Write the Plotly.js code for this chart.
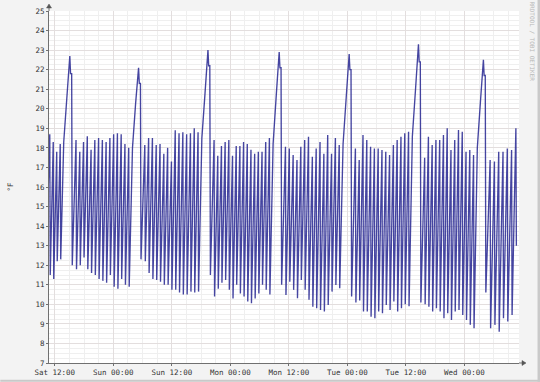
<!DOCTYPE html>
<html><head><meta charset="utf-8">
<script src="https://cdn.plot.ly/plotly-3.0.1.min.js"></script>
<style>html,body{margin:0;padding:0;background:#f3f3f3;}#chart{width:540px;height:382px;}</style>
</head><body><div id="chart"></div>
<script>
// ---- data (hours relative to Sat 12:00, values in °F) ----
const baseTimeMs = Date.UTC(2010, 0, 2, 12, 0, 0); // Saturday 12:00
const axisStartHour = -1.19;
const axisEndHour = 95.2;
const dataStartHour = -1.75;
const dataEndHour = 95.44;
const startValue = 12.5;

// defrost peaks
const peakHours      = [3.08, 17.18, 31.41, 46.02, 60.37, 74.58, 87.9];
const riseStart      = [18.3, 18.0, 18.5, 18.2, 18.2, 18.6, 18.0];
const riseMid        = [20.6, 20.3, 20.8, 20.7, 20.6, 21.0, 20.4];
const peakValues     = [22.7, 22.1, 23.0, 22.9, 22.8, 23.3, 22.5];
const shoulderValues = [21.8, 21.3, 22.2, 22.1, 22.0, 22.4, 21.7];
const dropValues     = [12.0, 12.3, 11.5, 11.0, 10.4, 10.1, 10.6];

// compressor cycles between defrosts: maxima and minima
const seg0Max = [18.7, 18.3, 17.8, 18.2];
const seg0Min = [11.5, 11.3, 12.2, 12.3];
const seg1Max = [18.4, 17.8, 18.3, 18.6, 17.9, 18.4, 18.5, 18.4, 18.3, 18.5, 18.7, 18.75, 18.7, 18.2, 18.0];
const seg1Min = [11.8, 12.0, 12.4, 11.8, 11.6, 11.5, 11.3, 11.2, 11.1, 11.5, 10.9, 10.8, 11.3, 11.0, 10.9];
const seg2Max = [18.15, 18.5, 18.5, 18.15, 18.2, 17.7, 18.0, 17.3, 18.9, 18.75, 18.8, 18.7, 18.75, 19.0, 18.8];
const seg2Min = [12.2, 11.6, 11.3, 11.25, 11.15, 11.0, 11.0, 10.75, 10.75, 10.6, 10.5, 10.5, 10.65, 10.6, 10.65];
const seg3Max = [18.4, 17.6, 18.1, 18.3, 18.4, 17.6, 18.1, 18.1, 18.3, 18.2, 17.9, 17.7, 17.8, 17.8, 18.3, 18.5];
const seg3Min = [10.4, 10.8, 11.1, 11.25, 10.75, 10.3, 11.0, 10.55, 10.4, 10.15, 10.05, 10.3, 10.55, 11.0, 10.75, 10.5];
const seg4Max = [18.06, 17.97, 17.64, 17.38, 18.06, 18.4, 18.57, 17.55, 17.97, 18.3, 17.7, 18.66, 17.7, 18.5, 18.15];
const seg4Min = [10.48, 11.16, 10.74, 10.31, 11.25, 10.74, 10.23, 9.88, 9.8, 9.71, 9.63, 9.97, 10.65, 10.99, 10.82];
const seg5Max = [17.97, 17.38, 18.66, 18.4, 18.06, 17.97, 17.97, 17.89, 17.8, 17.64, 18.15, 18.4, 18.57, 18.75, 18.83];
const seg5Min = [10.1, 10.2, 9.63, 9.63, 9.37, 9.29, 9.63, 9.54, 9.97, 9.71, 10.14, 9.63, 9.8, 10.0, 9.9];
const seg6Max = [17.5, 18.57, 18.15, 18.4, 18.4, 18.66, 19.0, 17.89, 18.4, 18.92, 18.83, 17.8, 17.89, 17.64];
const seg6Min = [10.0, 9.88, 9.63, 9.8, 9.63, 9.29, 9.54, 9.2, 9.63, 9.71, 9.46, 9.2, 8.95, 8.78];
const seg7Max = [17.38, 17.3, 17.8, 17.8, 17.97, 17.89, 19.0];
const seg7Min = [8.78, 8.95, 8.6, 9.29, 9.12, 9.46, 13.0];

const yTickStep = 1;
const yRange = [7, 25];

// ---- build series ----
const HOUR = 3600000;
function toDateStr(h) {
  return new Date(baseTimeMs + h * HOUR).toISOString().replace('T', ' ').replace('Z', '');
}
const segMax = [seg0Max, seg1Max, seg2Max, seg3Max, seg4Max, seg5Max, seg6Max, seg7Max];
const segMin = [seg0Min, seg1Min, seg2Min, seg3Min, seg4Min, seg5Min, seg6Min, seg7Min];
const xs = [], ys = [];
function push(h, v) { xs.push(toDateStr(h)); ys.push(v); }

for (let k = 0; k < segMax.length; k++) {
  const start = k === 0 ? dataStartHour : peakHours[k - 1] + 0.5;
  const end = k === segMax.length - 1 ? dataEndHour : peakHours[k] - 1.25;
  if (k === 0) push(start, startValue);
  const n = segMax[k].length;
  const step = (end - start) / (n + 1);
  for (let i = 0; i < n; i++) {
    const t = start + (i + 1) * step;
    push(t, segMax[k][i]);
    push(t + 0.1, segMin[k][i]);
  }
  if (k < peakHours.length) {
    const P = peakHours[k];
    push(P - 1.25, riseStart[k]);
    push(P - 0.6, riseMid[k]);
    push(P, peakValues[k]);
    push(P + 0.15, shoulderValues[k]);
    push(P + 0.38, shoulderValues[k]);
    push(P + 0.5, dropValues[k]);
  }
}

const trace = {
  x: xs, y: ys, type: 'scatter', mode: 'lines',
  line: { color: 'rgba(36,36,145,0.85)', width: 1.35 },
  hoverinfo: 'skip', showlegend: false
};

const monoFont = { family: 'DejaVu Sans Mono, monospace', size: 7.5, color: '#333333' };
const majorGrid = '#e3dede';
const minorGrid = '#efefef';
const axisColor = '#707070';

const layout = {
  width: 540, height: 382,
  margin: { l: 48.7, r: 21, t: 11, b: 18.7, pad: 0 },
  paper_bgcolor: '#f3f3f3',
  plot_bgcolor: '#ffffff',
  showlegend: false,
  xaxis: {
    type: 'date',
    range: [toDateStr(axisStartHour), toDateStr(axisEndHour)],
    tick0: toDateStr(0), dtick: 12 * HOUR,
    tickformat: '%a %H:%M',
    showgrid: true, gridcolor: majorGrid, gridwidth: 1,
    minor: { tick0: toDateStr(0), dtick: 3 * HOUR, showgrid: true, gridcolor: minorGrid, gridwidth: 1 },
    showline: true, linecolor: axisColor, linewidth: 1,
    ticks: 'outside', ticklen: 2, tickcolor: axisColor,
    zeroline: false, tickfont: monoFont, fixedrange: true
  },
  yaxis: {
    range: yRange, dtick: yTickStep, tick0: 0,
    showgrid: true, gridcolor: majorGrid, gridwidth: 1,
    minor: { dtick: 0.25, showgrid: true, gridcolor: minorGrid, gridwidth: 1 },
    showline: true, linecolor: axisColor, linewidth: 1,
    ticks: 'outside', ticklen: 2, tickcolor: axisColor,
    zeroline: false, tickfont: monoFont, fixedrange: true,
    title: { text: '°F', font: monoFont, standoff: 20 }
  },
  annotations: [{
    xref: 'paper', yref: 'paper', x: 1.0287, y: 0.912,
    text: 'RRDTOOL / TOBI OETIKER', showarrow: false, textangle: 90,
    font: { family: 'DejaVu Sans Mono, monospace', size: 6, color: '#b8b8b8' },
    xanchor: 'center', yanchor: 'middle'
  }],
  shapes: [
    { type: 'path', xref: 'paper', yref: 'paper', xsizemode: 'pixel', ysizemode: 'pixel',
      xanchor: 0, yanchor: 1, path: 'M 0 0 L 0 4', line: { color: axisColor, width: 1 } },
    { type: 'path', xref: 'paper', yref: 'paper', xsizemode: 'pixel', ysizemode: 'pixel',
      xanchor: 0, yanchor: 1, path: 'M -2.5 3 L 2.5 3 L 0 7 Z', fillcolor: '#555555', line: { color: '#555555', width: 0.5 } },
    { type: 'path', xref: 'paper', yref: 'paper', xsizemode: 'pixel', ysizemode: 'pixel',
      xanchor: 1, yanchor: 0, path: 'M 0 0 L 4 0', line: { color: axisColor, width: 1 } },
    { type: 'path', xref: 'paper', yref: 'paper', xsizemode: 'pixel', ysizemode: 'pixel',
      xanchor: 1, yanchor: 0, path: 'M 3 2.5 L 3 -2.5 L 7 0 Z', fillcolor: '#555555', line: { color: '#555555', width: 0.5 } },
    { type: 'rect', xref: 'paper', yref: 'paper', layer: 'below',
      x0: -0.1036, x1: 1.0447, y0: -0.0531, y1: -0.0474, fillcolor: '#c9c9c9', line: { width: 0 } },
    { type: 'rect', xref: 'paper', yref: 'paper', layer: 'below',
      x0: 1.0394, x1: 1.0447, y0: -0.0531, y1: 1.0312, fillcolor: '#c9c9c9', line: { width: 0 } }
  ]
};

Plotly.newPlot('chart', [trace], layout, { staticPlot: true, displayModeBar: false });
</script>
</body></html>
